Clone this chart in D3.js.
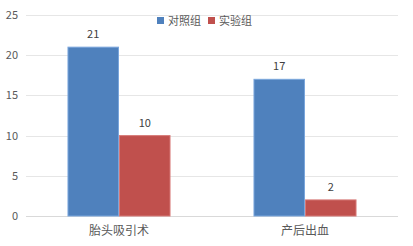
<!DOCTYPE html>
<html>
<head>
<meta charset="utf-8">
<script src="https://cdn.jsdelivr.net/npm/d3@7"></script>
<style>
  body { margin: 0; background: #fff; }
  text { font-family: "Noto Sans CJK SC", "Noto Sans", sans-serif; }
</style>
</head>
<body>
<script>
var categories = ["胎头吸引术", "产后出血"];
var seriesNames = ["对照组", "实验组"];
var controlValues = [21, 17];
var trialValues = [10, 2];
var yTicks = [0, 5, 10, 15, 20, 25];

var colors = ["#4f81bd", "#c0504d"];
var strokes = ["#7aa6dc", "#d77a78"];

var width = 413, height = 246;
var margin = {top: 15, right: 15, bottom: 30, left: 26};
var w = width - margin.left - margin.right,
    h = height - margin.top - margin.bottom;

var svg = d3.select("body").append("svg")
    .attr("width", width)
    .attr("height", height)
  .append("g")
    .attr("transform", "translate(" + margin.left + "," + margin.top + ")");

var data = categories.map(function(c, i) {
  return {cat: c, values: [
    {name: seriesNames[0], value: controlValues[i]},
    {name: seriesNames[1], value: trialValues[i]}
  ]};
});

var x0 = d3.scaleBand()
    .domain(categories)
    .range([0, w])
    .paddingInner(0.446)
    .paddingOuter(0.223);

var x1 = d3.scaleBand()
    .domain(seriesNames)
    .range([0, x0.bandwidth()]);

var y = d3.scaleLinear()
    .domain([0, 25])
    .range([h, 0]);

var color = d3.scaleOrdinal().domain(seriesNames).range(colors);
var stroke = d3.scaleOrdinal().domain(seriesNames).range(strokes);

// gridlines
svg.append("g")
    .selectAll("line")
    .data(yTicks)
  .enter().append("line")
    .attr("x1", 0)
    .attr("x2", w)
    .attr("y1", d => Math.round(y(d)) + 0.5)
    .attr("y2", d => Math.round(y(d)) + 0.5)
    .style("stroke", d => d === 0 ? "#d9d9d9" : "#e6e6e6");

// y axis labels
var yAxis = d3.axisLeft(y).tickValues(yTicks).tickSize(0).tickPadding(8);
var yg = svg.append("g").call(yAxis);
yg.select(".domain").remove();
yg.selectAll("text")
    .style("font-size", "11px")
    .style("fill", "#595959");

// bars
var slice = svg.selectAll(".slice")
    .data(data)
  .enter().append("g")
    .attr("class", "slice")
    .attr("transform", d => "translate(" + x0(d.cat) + ",0)");

slice.selectAll("rect")
    .data(d => d.values)
  .enter().append("rect")
    .attr("x", d => x1(d.name) + 0.5)
    .attr("y", d => y(d.value))
    .attr("width", x1.bandwidth() - 1)
    .attr("height", d => h - y(d.value))
    .style("fill", d => color(d.name))
    .style("stroke", d => stroke(d.name))
    .style("stroke-width", 1);

slice.selectAll(".val")
    .data(d => d.values)
  .enter().append("text")
    .attr("class", "val")
    .attr("x", d => x1(d.name) + x1.bandwidth() / 2)
    .attr("y", d => y(d.value) - 9)
    .attr("text-anchor", "middle")
    .style("font-size", "11px")
    .style("fill", "#404040")
    .text(d => d.value);

// x axis labels
var xAxis = d3.axisBottom(x0).tickSize(0).tickPadding(10);
var xg = svg.append("g")
    .attr("transform", "translate(0," + h + ")")
    .call(xAxis);
xg.select(".domain").remove();
xg.selectAll("text")
    .style("font-size", "12px")
    .style("fill", "#595959");

// legend
var legend = d3.select("svg").append("g")
    .attr("transform", "translate(157,17)");
var lx = [0, 51];
seriesNames.forEach(function(s, i) {
  legend.append("rect")
      .attr("x", lx[i])
      .attr("y", 0)
      .attr("width", 7)
      .attr("height", 7)
      .style("fill", color(s));
  legend.append("text")
      .attr("x", lx[i] + 11)
      .attr("y", 4)
      .attr("dy", "0.35em")
      .style("font-size", "11px")
      .style("fill", "#595959")
      .text(s);
});
</script>
</body>
</html>
